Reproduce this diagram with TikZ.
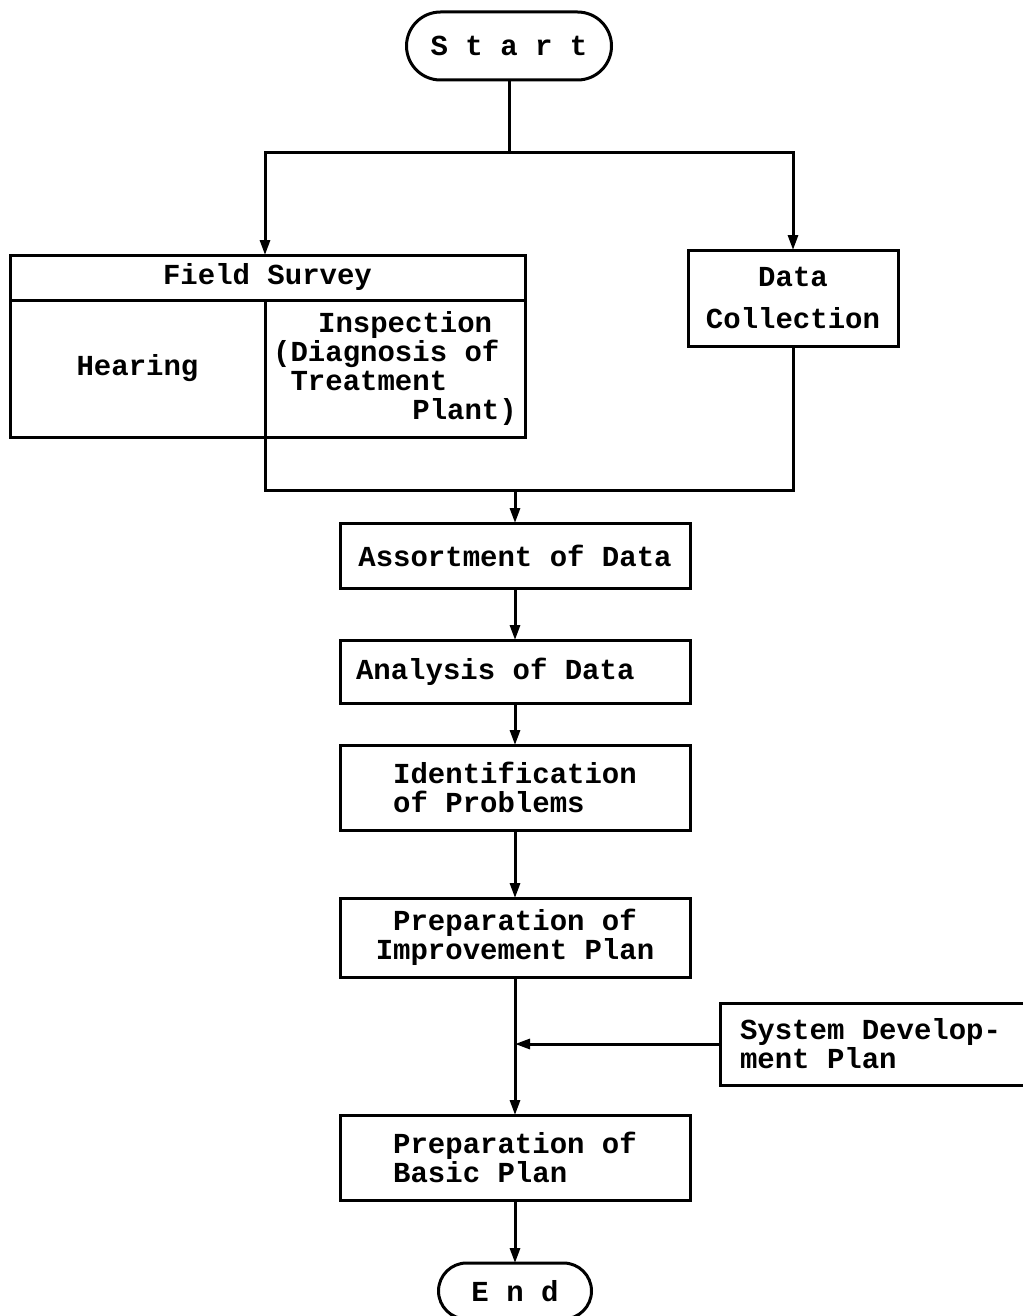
\documentclass[tikz,border=0pt]{standalone}
\usepackage{fontspec}
\setmonofont{Liberation Mono}
\usetikzlibrary{arrows.meta}

\begin{document}
\begin{tikzpicture}
	[x=1pt, y=-1pt, line width=3pt,
	every node/.style={draw,rectangle,inner sep=0pt,outer sep=0pt,align=center,
		font=\ttfamily\bfseries\fontsize{29}{29}\selectfont},
	term/.style={rounded corners=34pt, minimum width=205pt, minimum height=68pt},
	box/.style={minimum width=350pt, minimum height=65pt},
	arr/.style={-{Triangle[length=15pt,width=10pt]}}]
	\useasboundingbox (0,0) rectangle (1022,1316);
	\node (start) [term] at (509,46) {S t a r t};
	\node (fsurvey) [minimum width=515pt, minimum height=45pt] at (267.5,277.5) {Field Survey};
	\node (hearing) [minimum width=255pt, minimum height=137pt] at (137.5,368.5) {Hearing};
	\node (inspect) [minimum width=260pt, minimum height=137pt, align=left] at (395,368.5)
		{\hspace*{1.55em}Inspection\\(Diagnosis of\\\hspace*{0.6em}Treatment\\\hspace*{4.8em}Plant)};
	\node (collect) [minimum width=210pt, minimum height=96pt] at (793,298) {Data\\[13pt]Collection};
	\node (assort) [box] at (515,555.5) {Assortment of Data};
	\node (analysis) [box, minimum height=63pt] at (515,671.5) {\makebox[318pt][l]{Analysis of Data}};
	\node (ident) [box, minimum height=85pt, align=left] at (515,787.5) {Identification\\of Problems};
	\node (improve) [box, minimum height=79pt] at (515,937.5) {Preparation of\\Improvement Plan};
	\node (sysdev) [anchor=west, minimum height=82pt, inner xsep=20pt, align=left] at (720,1044)
		{\makebox[280pt][l]{System Develop-}\\ment Plan};
	\node (basic) [box, minimum height=85pt, align=left] at (515,1157.5) {Preparation of\\Basic Plan};
	\node (finish) [term, rounded corners=28pt, minimum width=153pt, minimum height=56pt] at (515,1291) {E n d};
	\coordinate (split) at (509,153);
	\coordinate (splitL) at (265,255);
	\coordinate (join) at (515,490);
	\coordinate (merge) at (515,1044);
	\draw (start) -- (split);
	\draw [arr] (split) -| (splitL);
	\draw [arr] (split) -| (collect);
	\draw (hearing.south east) |- (join) -| (collect.south);
	\draw [arr] (join) -- (assort);
	\draw [arr] (assort) -- (analysis);
	\draw [arr] (analysis) -- (ident);
	\draw [arr] (ident) -- (improve);
	\draw [arr] (improve) -- (basic);
	\draw [arr] (sysdev) -- (merge);
	\draw [arr] (basic) -- (finish);
\end{tikzpicture}
\end{document}
